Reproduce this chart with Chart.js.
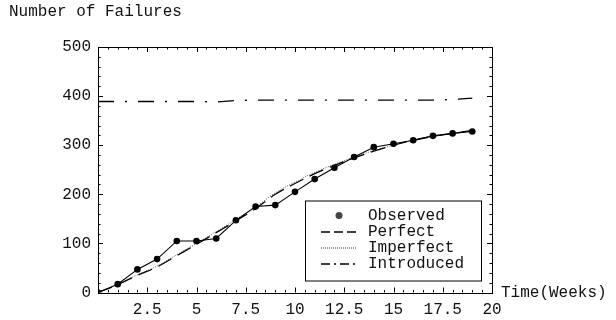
<!DOCTYPE html>
<html>
<head>
<meta charset="utf-8">
<script src="https://cdn.jsdelivr.net/npm/chart.js@4"></script>
<style>
  html, body { margin: 0; padding: 0; background: #fff; }
  #wrap { width: 616px; height: 320px; }
</style>
</head>
<body>
<div id="wrap"><canvas id="failChart" width="616" height="320"></canvas></div>
<script>
// data
const weeks = [0, 1, 2, 3, 4, 5, 6, 7, 8, 9, 10, 11, 12, 13, 14, 15, 16, 17, 18, 19];
const observed = [0, 17, 47, 68, 105, 105, 110, 147, 175, 178, 205, 231, 254, 276, 296, 303, 310, 319, 324, 328];
const perfect = [0, 16, 35, 52, 75, 98, 122, 146, 171, 200, 222, 242, 259, 274, 288, 300, 310, 318, 324, 330];
const imperfect = [0, 17, 36, 54, 77, 100, 124, 149, 174, 203, 225, 245, 261, 276, 289, 300, 310, 318, 324, 330];
const introduced = [389, 389, 389, 389, 389, 389, 388, 391, 392, 392, 392, 392, 392, 392, 392, 392, 392, 392, 393, 396];
const xTicks = [2.5, 5, 7.5, 10, 12.5, 15, 17.5, 20];
const yTicks = [0, 100, 200, 300, 400, 500];
const seriesNames = ["Observed", "Perfect", "Imperfect", "Introduced"];

const FONT = "16px 'Liberation Mono', 'DejaVu Sans Mono', monospace";

const toPoints = arr => arr.map((v, i) => ({ x: weeks[i], y: v }));

// frame, inward ticks, axis captions and the boxed legend
const framePlugin = {
    id: "frame",
    afterDraw(chart) {
        const ctx = chart.ctx;
        const a = chart.chartArea;
        const xs = chart.scales.x, ys = chart.scales.y;
        ctx.save();
        ctx.strokeStyle = "#000";
        ctx.lineWidth = 1;
        ctx.setLineDash([]);
        ctx.strokeRect(Math.round(a.left) + 0.5, Math.round(a.top) + 0.5,
            Math.round(a.right - a.left), Math.round(a.bottom - a.top));

        ctx.beginPath();
        for (let v = 0; v <= 20.001; v += 0.5) {
            const len = Math.abs(v / 2.5 - Math.round(v / 2.5)) < 1e-6 ? 5 : 2.5;
            const px = Math.round(xs.getPixelForValue(v)) + 0.5;
            ctx.moveTo(px, a.bottom); ctx.lineTo(px, a.bottom - len);
            ctx.moveTo(px, a.top); ctx.lineTo(px, a.top + len);
        }
        for (let v = 0; v <= 500.001; v += 20) {
            const len = v % 100 === 0 ? 5 : 2.5;
            const py = Math.round(ys.getPixelForValue(v)) + 0.5;
            ctx.moveTo(a.left, py); ctx.lineTo(a.left + len, py);
            ctx.moveTo(a.right, py); ctx.lineTo(a.right - len, py);
        }
        ctx.stroke();

        ctx.fillStyle = "#111";
        ctx.font = FONT;
        ctx.textBaseline = "middle";
        ctx.textAlign = "left";
        ctx.fillText("Number of Failures", 9, 12);
        ctx.fillText("Time(Weeks)", a.right + 9, a.bottom);

        // legend
        const lx = a.right - 187, ly = a.bottom - 92;
        ctx.strokeRect(lx + 0.5, ly + 0.5, 176, 80);
        chart.data.datasets.forEach((ds, i) => {
            const y = ly + 15 + i * 16;
            if (i === 0) {
                ctx.fillStyle = "#444";
                ctx.beginPath();
                ctx.arc(lx + 34, y, 3.5, 0, Math.PI * 2);
                ctx.fill();
            } else {
                ctx.strokeStyle = "#000";
                ctx.lineWidth = ds.borderWidth;
                ctx.setLineDash(ds.legendDash);
                ctx.beginPath();
                ctx.moveTo(lx + 16, y + 0.5);
                ctx.lineTo(lx + 52, y + 0.5);
                ctx.stroke();
                ctx.setLineDash([]);
            }
            ctx.fillStyle = "#111";
            ctx.fillText(seriesNames[i], lx + 63, y);
        });
        ctx.restore();
    }
};

new Chart(document.getElementById("failChart"), {
    type: "line",
    data: {
        datasets: [
            {
                label: seriesNames[0],
                data: toPoints(observed),
                borderColor: "#000",
                backgroundColor: "#000",
                borderWidth: 1.1,
                pointRadius: 3.3,
                pointBorderWidth: 0,
                tension: 0
            },
            {
                label: seriesNames[1],
                data: toPoints(perfect),
                borderColor: "#000",
                borderWidth: 1.3,
                borderDash: [15, 7],
                legendDash: [9, 4],
                pointRadius: 0,
                cubicInterpolationMode: "monotone"
            },
            {
                label: seriesNames[2],
                data: toPoints(imperfect),
                borderColor: "#333",
                borderWidth: 0.8,
                borderDash: [1, 1.5],
                legendDash: [1, 1],
                pointRadius: 0,
                cubicInterpolationMode: "monotone"
            },
            {
                label: seriesNames[3],
                data: toPoints(introduced),
                borderColor: "#000",
                borderWidth: 1.3,
                borderDash: [16, 11, 2, 11],
                legendDash: [9, 4, 2, 4],
                pointRadius: 0,
                tension: 0
            }
        ]
    },
    options: {
        responsive: false,
        animation: false,
        events: [],
        layout: { padding: { left: 0, top: 47, right: 124, bottom: 0 } },
        plugins: { legend: { display: false }, tooltip: { enabled: false } },
        scales: {
            x: {
                type: "linear",
                min: 0,
                max: 20,
                afterBuildTicks: s => { s.ticks = xTicks.map(v => ({ value: v })); },
                afterFit: s => { s.height = 27.5; },
                grid: { display: false, drawTicks: false },
                border: { display: false },
                ticks: { color: "#111", font: { family: "'Liberation Mono', monospace", size: 16 }, padding: 8, maxRotation: 0, autoSkip: false }
            },
            y: {
                min: 0,
                max: 500,
                afterBuildTicks: s => { s.ticks = yTicks.map(v => ({ value: v })); },
                afterFit: s => { s.width = 98; },
                grid: { display: false, drawTicks: false },
                border: { display: false },
                ticks: { color: "#111", font: { family: "'Liberation Mono', monospace", size: 16 }, padding: 7 }
            }
        }
    },
    plugins: [framePlugin]
});
</script>
</body>
</html>
